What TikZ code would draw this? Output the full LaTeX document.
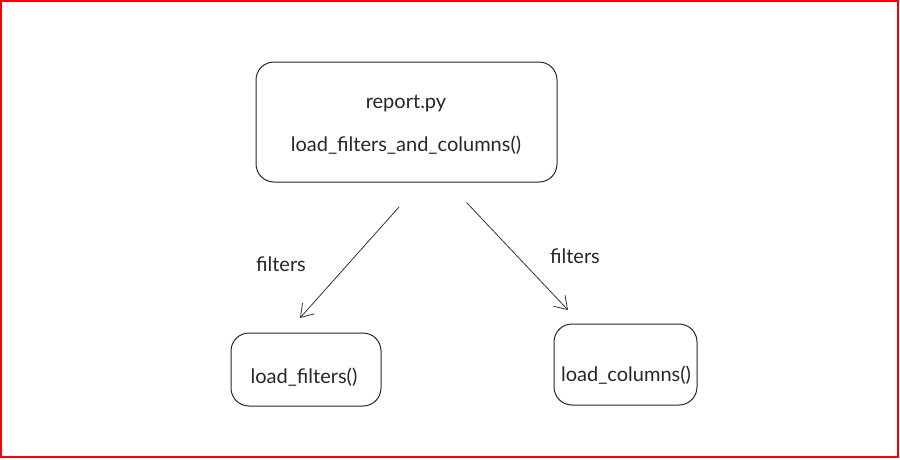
\documentclass[tikz,border=0pt]{standalone}
\usepackage{fontspec}
\setmainfont{Lato}
\usetikzlibrary{arrows.meta}
\begin{document}
\begin{tikzpicture}[x=1pt,y=-1pt,
  box/.style={draw=black!85,line width=1pt,rounded corners=18pt},
  lbl/.style={font=\fontsize{20}{24}\selectfont,text=black!85},
  conn/.style={draw=black!80,line width=0.8pt,-{Straight Barb[length=12pt,width=16pt]}}]
\useasboundingbox (0,0) rectangle (900,459);
\draw[red,line width=2pt] (1,1) rectangle (898,457);
% boxes
\draw[box] (256,62) rectangle (557,182);
\node[lbl] (t1) at (406,103) {report.py};
\node[lbl] (t2) at (406,145) {load\_filters\_and\_columns()};
\draw[box] (231,333) rectangle (381,406);
\node[lbl] (lf) at (304,377) {load\_filters()};
\draw[box] (554,324) rectangle (697,405);
\node[lbl] (lc) at (626,375) {load\_columns()};
% arrow endpoints
\coordinate (a1s) at (399,207);
\coordinate (a1e) at (300,318);
\coordinate (a2s) at (467,203);
\coordinate (a2e) at (568,310);
\draw[conn] (a1s) -- (a1e);
\draw[conn] (a2s) -- (a2e);
\node[lbl] (f1) at (281,264) {filters};
\node[lbl] (f2) at (575,256) {filters};
\end{tikzpicture}
\end{document}
